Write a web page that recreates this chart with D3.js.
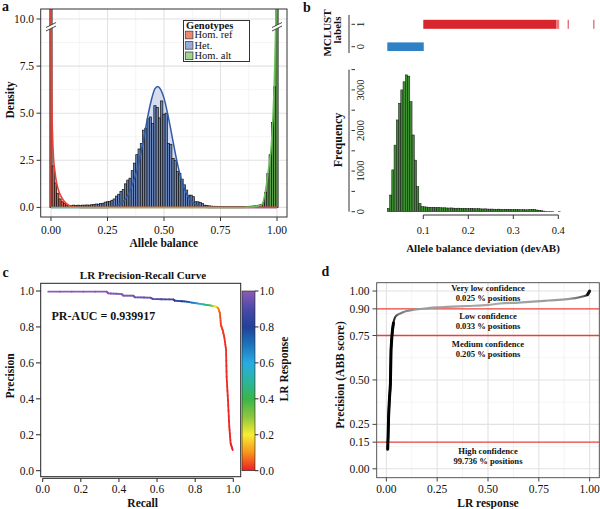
<!DOCTYPE html>
<html><head><meta charset="utf-8">
<script src="https://cdn.jsdelivr.net/npm/d3@7"></script>
<style>
body{margin:0;background:#fff}
svg{display:block}
text{font-family:"Liberation Serif","Times New Roman",serif;fill:#111}
</style>
</head><body>
<svg id="chart" width="600" height="509"></svg>
<script>
// ---------------- DATA ----------------
// Panel a: allele balance histogram (density per 0.01 bin, bins centred on 0.00 ... 1.00)
const abDensity = [40,2.2,1.3,0.75,0.45,0.3,0.2,0.12,0.1,0.1,
  0.12,0.1,0.12,0.1,0.12,0.12,0.13,0.12,0.14,0.15,
  0.18,0.17,0.2,0.22,0.28,0.3,0.32,0.38,0.45,0.6,
  0.7,0.85,0.95,1.25,1.45,1.55,1.95,2.35,2.8,3.1,
  3.4,4.1,4.2,4.7,4.8,4.45,5.4,5.3,4.75,5.65,
  4.95,5.0,3.4,3.35,2.6,2.5,1.9,1.8,1.5,1.2,
  0.92,0.65,0.65,0.57,0.3,0.3,0.27,0.2,0.12,0.1,
  0.08,0.07,0.06,0.06,0.05,0.05,0.05,0.04,0.04,0.04,
  0.04,0.04,0.04,0.04,0.04,0.04,0.05,0.05,0.06,0.07,
  0.08,0.08,0.12,0.15,0.25,0.8,1.8,2.8,4.5,6.4,40];
const genotypes = ["Hom. ref","Het.","Hom. alt"];
// fitted density curves: [allele balance, density]
const curveHomRef = [[0,11],[0.004,5.5],[0.01,2.9],[0.018,1.85],[0.025,1.3],[0.035,0.85],[0.045,0.58],[0.054,0.4],[0.065,0.24],[0.075,0.14],[0.084,0.08],[0.1,0.03],[0.12,0.01],[0.15,0],[1,0]];
const curveHet = [[0,0],[0.25,0],[0.27,0.04],[0.3,0.15],[0.33,0.45],[0.36,1.2],[0.38,1.95],[0.4,3.0],[0.42,4.3],[0.44,5.5],[0.46,6.3],[0.472,6.42],[0.48,6.35],[0.5,5.8],[0.52,4.75],[0.54,3.5],[0.56,2.3],[0.58,1.35],[0.6,0.72],[0.62,0.34],[0.64,0.14],[0.67,0.03],[0.7,0],[1,0]];
const curveHomAlt = [[0,0],[0.85,0],[0.88,0.02],[0.91,0.06],[0.932,0.14],[0.947,0.74],[0.962,2.0],[0.973,3.05],[0.982,4.8],[0.99,7.5],[0.996,10.6],[1.0,12]];
const yTicksA = [0,2.5,5,7.5,10];
const xTicksA = [0,0.25,0.5,0.75,1];

// Panel b: devAB histogram (bins of 0.005 starting at 0.020)
const devabFreq = [80,410,1030,1640,2260,2670,3000,3200,3370,3340,
  2710,1890,1270,615,205,125,
  120,115,110,108,105,100,104,98,95,97,
  92,90,93,88,85,87,82,80,83,78,
  76,78,74,72,75,70,68,70,66,64,
  65,62,60,63,58,56,60,55,57,52,
  55,50,52,48,50,46,48,55,58,50,
  42,35,25,15,8,4,2,1,0,0,
  1,0,0,0,0,0,0,0,0,0,0];
const mclustLabel0 = [0.02,0.101];
const mclustLabel1 = [0.1,0.395];
const mclustLabel1Faint = [0.395,0.402];
const mclustLabel1Points = [0.422,0.479];
const xTicksB = [0.1,0.2,0.3,0.4];
const yTicksB = [0,500,1000,1500,2000,2500,3000,3500];
const yLabelsB = [0,1000,2000,3000];

// Panel c: PR curve (recall, precision, LR response cut-off)
const prRecall    = [0.029,0.336,0.344,0.414,0.423,0.475,0.484,0.563,0.58,0.685,0.694,0.755,0.825,0.878,0.909,0.921,0.93,0.935,0.944,0.953,0.962,0.965,0.972,0.979,0.986,0.997];
const prPrecision = [0.996,0.996,0.987,0.983,0.974,0.974,0.965,0.963,0.955,0.953,0.946,0.941,0.928,0.92,0.913,0.904,0.876,0.811,0.783,0.742,0.672,0.523,0.393,0.245,0.152,0.115];
const prCutoff    = [1.0,0.99,0.99,0.98,0.98,0.97,0.96,0.95,0.93,0.87,0.85,0.78,0.6,0.38,0.2,0.1,0.05,0.03,0.025,0.02,0.015,0.012,0.01,0.008,0.005,0.0];
const colorStops = [[0,"#ed1c24"],[0.1,"#f7941d"],[0.2,"#f9ed32"],[0.3,"#8dc63f"],[0.4,"#39b54a"],[0.5,"#2bb5a0"],[0.6,"#29abe2"],[0.7,"#1c75bc"],[0.8,"#21409a"],[0.9,"#4a4aa8"],[1,"#8e5bb5"]];
const ticksC = [0,0.2,0.4,0.6,0.8,1.0];
const prAUC = "PR-AUC = 0.939917";

// Panel d: ABB score curve
const lrResponse = [0.0066,0.009,0.011,0.015,0.02,0.023,0.027,0.03,0.035,0.041,0.05,0.061,0.08,0.1,0.13,0.167,0.2,0.25,0.3,0.4,0.5,0.56,0.65,0.72,0.8,0.89,0.93,0.96,0.975,0.99,0.995,1.0];
const abbScore   = [0.11,0.2,0.294,0.39,0.48,0.67,0.74,0.78,0.82,0.847,0.862,0.87,0.88,0.888,0.894,0.899,0.903,0.908,0.911,0.916,0.922,0.93,0.935,0.94,0.947,0.955,0.96,0.968,0.972,0.98,0.99,1.0];
const cutLines = [0.15,0.75,0.9];
const yTicksD = [0,0.15,0.25,0.5,0.75,0.9,1];
const xTicksD = [0,0.25,0.5,0.75,1];
const zones = [
  {name:"Very low confidence", pct:"0.025 % positions", y:1.015},
  {name:"Low confidence", pct:"0.033 % positions", y:0.861},
  {name:"Medium confidence", pct:"0.205 % positions", y:0.702},
  {name:"High confidence", pct:"99.736 % positions", y:0.098}
];

// ---------------- DRAW ----------------
const svg = d3.select("#chart");
const defs = svg.append("defs");
const fmt2 = d3.format(".2f"), fmt1 = d3.format(".1f");

function letter(t,x,y){svg.append("text").attr("x",x).attr("y",y).attr("font-size",14).attr("font-weight","bold").text(t);}

// ===== Panel a =====
(function(){
  const x = d3.scaleLinear().domain([-0.0455,1.0442]).range([40.7,287]);
  const y = d3.scaleLinear().domain([-0.509,10.53]).range([217,9]);
  const g = svg.append("g");
  defs.append("clipPath").attr("id","clipA").append("rect").attr("x",40.7).attr("y",9).attr("width",246.3).attr("height",208);
  g.append("rect").attr("x",40.7).attr("y",9).attr("width",246.3).attr("height",208).attr("fill","#fff");
  const grid = g.append("g");
  const minorX = [0.125,0.375,0.625,0.875], minorY=[1.25,3.75,6.25,8.75];
  minorX.forEach(v=>grid.append("line").attr("x1",x(v)).attr("x2",x(v)).attr("y1",9).attr("y2",217).attr("stroke","#efefef").attr("stroke-width",0.7));
  minorY.forEach(v=>grid.append("line").attr("y1",y(v)).attr("y2",y(v)).attr("x1",40.7).attr("x2",287).attr("stroke","#efefef").attr("stroke-width",0.7));
  xTicksA.forEach(v=>grid.append("line").attr("x1",x(v)).attr("x2",x(v)).attr("y1",9).attr("y2",217).attr("stroke","#e2e2e2").attr("stroke-width",1.1));
  yTicksA.forEach(v=>grid.append("line").attr("y1",y(v)).attr("y2",y(v)).attr("x1",40.7).attr("x2",287).attr("stroke","#e2e2e2").attr("stroke-width",1.1));

  const p = g.append("g").attr("clip-path","url(#clipA)");
  const area = d3.area().x(d=>x(d[0])).y0(y(0)).y1(d=>y(d[1])).curve(d3.curveMonotoneX);
  const line = d3.line().x(d=>x(d[0])).y(d=>y(d[1])).curve(d3.curveMonotoneX);
  p.append("path").attr("d",area(curveHet)).attr("fill","#c9d0e8").attr("opacity",0.75);
  p.append("path").attr("d",area(curveHomRef)).attr("fill","#f6c9c2").attr("opacity",0.7);
  p.append("path").attr("d",area(curveHomAlt)).attr("fill","#cfe9c8").attr("opacity",0.7);
  const bw = 0.01;
  p.selectAll("rect.bar").data(abDensity).join("rect").attr("class","bar")
    .attr("x",(d,i)=>x(i*bw - bw/2)).attr("width",x(bw)-x(0))
    .attr("y",d=>y(d)).attr("height",d=>y(0)-y(d))
    .attr("fill",(d,i)=> i*bw<0.1 ? "#d9594a" : (i*bw>0.9 ? "#5fa04d" : "#6a85ba"))
    .attr("stroke","#111").attr("stroke-width",0.7);
  p.append("path").attr("d",line(curveHet)).attr("fill","none").attr("stroke","#2d5ca8").attr("stroke-width",1.5);
  p.append("path").attr("d",line(curveHomRef)).attr("fill","none").attr("stroke","#e8433a").attr("stroke-width",1.6);
  p.append("path").attr("d",line(curveHomAlt)).attr("fill","none").attr("stroke","#6cc05a").attr("stroke-width",1.5);
  // axis break marks
  function brk(cx,cy){
    g.append("path").attr("d",`M${cx-5},${cy+1} L${cx+5},${cy-4} L${cx+5},${cy-0.5} L${cx-5},${cy+4.5}Z`).attr("fill","#fff");
    g.append("line").attr("x1",cx-5).attr("y1",cy+1).attr("x2",cx+5).attr("y2",cy-4).attr("stroke","#333").attr("stroke-width",0.9);
    g.append("line").attr("x1",cx-5).attr("y1",cy+4.5).attr("x2",cx+5).attr("y2",cy-0.5).attr("stroke","#333").attr("stroke-width",0.9);
  }
  brk(x(0),y(9.6)); brk(x(1),y(9.6));
  g.append("rect").attr("x",40.7).attr("y",9).attr("width",246.3).attr("height",208).attr("fill","none").attr("stroke","#333").attr("stroke-width",1);
  // axes
  yTicksA.forEach(v=>{
    g.append("line").attr("x1",36.5).attr("x2",40.7).attr("y1",y(v)).attr("y2",y(v)).attr("stroke","#333");
    g.append("text").attr("x",34).attr("y",y(v)).attr("dy","0.35em").attr("text-anchor","end").attr("font-size",11.5).attr("fill","#333").text(fmt1(v));
  });
  xTicksA.forEach(v=>{
    g.append("line").attr("x1",x(v)).attr("x2",x(v)).attr("y1",217).attr("y2",221).attr("stroke","#333");
    g.append("text").attr("x",x(v)).attr("y",230).attr("dy","0.35em").attr("text-anchor","middle").attr("font-size",11.5).attr("fill","#333").text(fmt2(v));
  });
  g.append("text").attr("x",163.8).attr("y",243).attr("dy","0.35em").attr("text-anchor","middle").attr("font-size",11.5).attr("font-weight","bold").text("Allele balance");
  g.append("text").attr("transform","translate(10,100) rotate(-90)").attr("dy","0.35em").attr("text-anchor","middle").attr("font-size",11.5).attr("font-weight","bold").text("Density");
  // legend
  const lg = g.append("g");
  lg.append("rect").attr("x",183.5).attr("y",20.5).attr("width",66).attr("height",41).attr("fill","#fff").attr("stroke","#333").attr("stroke-width",1);
  lg.append("text").attr("x",186).attr("y",28.5).attr("font-size",10.5).attr("font-weight","bold").text("Genotypes");
  const keyFill = ["#f0876f","#97acd8","#9fd491"];
  genotypes.forEach((n,i)=>{
    const cy = 35 + i*10.4;
    lg.append("rect").attr("x",185.3).attr("y",cy-3.8).attr("width",7.6).attr("height",7.6).attr("fill",keyFill[i]).attr("stroke","#444").attr("stroke-width",0.8);
    lg.append("text").attr("x",194.5).attr("y",cy+3.4).attr("font-size",10.5).text(n);
  });
})();
letter("a",2,11);

// ===== Panel b =====
(function(){
  const x = d3.scaleLinear().domain([0,0.5]).range([378.3,603.3]);
  const y = d3.scaleLinear().domain([0,3500]).range([211.7,69.6]);
  const ys = d3.scaleLinear().domain([0,1]).range([46.7,24.3]);
  const g = svg.append("g");
  // strip
  g.append("rect").attr("x",x(mclustLabel1[0])).attr("width",x(mclustLabel1[1])-x(mclustLabel1[0])).attr("y",ys(1)-4.5).attr("height",9).attr("fill","#d7262d");
  g.append("rect").attr("x",x(mclustLabel1Faint[0])).attr("width",x(mclustLabel1Faint[1])-x(mclustLabel1Faint[0])).attr("y",ys(1)-4.5).attr("height",9).attr("fill","#e8797c");
  mclustLabel1Points.forEach(v=>g.append("line").attr("x1",x(v)).attr("x2",x(v)).attr("y1",ys(1)-4.5).attr("y2",ys(1)+4.5).attr("stroke","#d7262d").attr("stroke-width",0.9));
  g.append("rect").attr("x",x(mclustLabel0[0])).attr("width",x(mclustLabel0[1])-x(mclustLabel0[0])).attr("y",ys(0)-4.3).attr("height",8.6).attr("fill","#2f80c4");
  g.append("line").attr("x1",349).attr("x2",349).attr("y1",15).attr("y2",53).attr("stroke","#333").attr("stroke-width",1);
  [0,1].forEach(v=>{
    g.append("line").attr("x1",351.5).attr("x2",355).attr("y1",ys(v)).attr("y2",ys(v)).attr("stroke","#333");
    g.append("text").attr("transform",`translate(360,${ys(v)}) rotate(-90)`).attr("dy","0.35em").attr("text-anchor","middle").attr("font-size",10.5).attr("fill","#333").text(v);
  });
  g.append("text").attr("transform","translate(327,33) rotate(-90)").attr("dy","0.35em").attr("text-anchor","middle").attr("font-size",11).attr("font-weight","bold").text("MCLUST");
  g.append("text").attr("transform","translate(337.5,30) rotate(-90)").attr("dy","0.35em").attr("text-anchor","middle").attr("font-size",11).attr("font-weight","bold").text("labels");
  // histogram
  const bw = 0.005;
  g.selectAll("rect.hb").data(devabFreq).join("rect").attr("class","hb")
    .attr("x",(d,i)=>x(0.02+i*bw)).attr("width",x(bw)-x(0))
    .attr("y",d=>y(d)).attr("height",d=>y(0)-y(d))
    .attr("fill","#3f8f33").attr("stroke","#111").attr("stroke-width",0.5);
  g.append("line").attr("x1",349).attr("x2",349).attr("y1",y(3500)).attr("y2",y(0)).attr("stroke","#333");
  yTicksB.forEach(v=>g.append("line").attr("x1",351.5).attr("x2",355).attr("y1",y(v)).attr("y2",y(v)).attr("stroke","#333"));
  yLabelsB.forEach(v=>g.append("text").attr("transform",`translate(360,${y(v)}) rotate(-90)`).attr("dy","0.35em").attr("text-anchor","middle").attr("font-size",10.5).attr("fill","#333").text(v));
  g.append("text").attr("transform","translate(338,140) rotate(-90)").attr("dy","0.35em").attr("text-anchor","middle").attr("font-size",12).attr("font-weight","bold").text("Frequency");
  g.append("line").attr("x1",x(0.1)).attr("x2",x(0.4)).attr("y1",215).attr("y2",215).attr("stroke","#333");
  xTicksB.forEach(v=>{
    g.append("line").attr("x1",x(v)).attr("x2",x(v)).attr("y1",215).attr("y2",219).attr("stroke","#333");
    g.append("text").attr("x",x(v)).attr("y",230).attr("dy","0.35em").attr("text-anchor","middle").attr("font-size",10.5).attr("fill","#333").text(v);
  });
  g.append("text").attr("x",483).attr("y",248).attr("dy","0.35em").attr("text-anchor","middle").attr("font-size",11).attr("font-weight","bold").text("Allele balance deviation (devAB)");
})();
letter("b",303,11.5);

// ===== Panel c =====
(function(){
  const x = d3.scaleLinear().domain([0,1]).range([42.7,233.3]);
  const y = d3.scaleLinear().domain([0,1]).range([470.7,291]);
  const col = d3.scaleLinear().domain(colorStops.map(d=>d[0])).range(colorStops.map(d=>d[1]));
  const g = svg.append("g");
  g.append("text").attr("x",143).attr("y",275).attr("dy","0.35em").attr("text-anchor","middle").attr("font-size",11).attr("font-weight","bold").text("LR Precision-Recall Curve");
  g.append("rect").attr("x",40.7).attr("y",283.3).attr("width",200).attr("height",193.4).attr("fill","none").attr("stroke","#222").attr("stroke-width",1);
  // curve
  for(let i=0;i<prRecall.length-1;i++){
    const n=5;
    for(let k=0;k<n;k++){
      const a=k/n,b=(k+1)/n;
      const r0=prRecall[i]+(prRecall[i+1]-prRecall[i])*a, r1=prRecall[i]+(prRecall[i+1]-prRecall[i])*b;
      const p0=prPrecision[i]+(prPrecision[i+1]-prPrecision[i])*a, p1=prPrecision[i]+(prPrecision[i+1]-prPrecision[i])*b;
      const c=prCutoff[i]+(prCutoff[i+1]-prCutoff[i])*(a+b)/2;
      g.append("line").attr("x1",x(r0)).attr("y1",y(p0)).attr("x2",x(r1)).attr("y2",y(p1)).attr("stroke",col(c)).attr("stroke-width",1.8).attr("stroke-linecap","round");
    }
  }
  g.append("text").attr("x",51.5).attr("y",316).attr("dy","0.35em").attr("font-size",12).attr("font-weight","bold").text(prAUC);
  // axes
  ticksC.forEach(v=>{
    g.append("line").attr("x1",36).attr("x2",40.7).attr("y1",y(v)).attr("y2",y(v)).attr("stroke","#222");
    g.append("text").attr("x",34).attr("y",y(v)).attr("dy","0.35em").attr("text-anchor","end").attr("font-size",11.5).text(fmt1(v));
    g.append("line").attr("x1",x(v)).attr("x2",x(v)).attr("y1",478.3).attr("y2",482).attr("stroke","#222");
    g.append("text").attr("x",x(v)).attr("y",488.5).attr("dy","0.35em").attr("text-anchor","middle").attr("font-size",11.5).text(fmt1(v));
  });
  g.append("line").attr("x1",x(0)).attr("x2",x(1)).attr("y1",478.3).attr("y2",478.3).attr("stroke","#222");
  g.append("text").attr("x",142.7).attr("y",503).attr("dy","0.35em").attr("text-anchor","middle").attr("font-size",11.5).attr("font-weight","bold").text("Recall");
  g.append("text").attr("transform","translate(10,376) rotate(-90)").attr("dy","0.35em").attr("text-anchor","middle").attr("font-size",11.5).attr("font-weight","bold").text("Precision");
  // colour bar
  const grad = defs.append("linearGradient").attr("id","cbar").attr("x1",0).attr("y1",1).attr("x2",0).attr("y2",0);
  colorStops.forEach(s=>grad.append("stop").attr("offset",s[0]).attr("stop-color",s[1]));
  g.append("rect").attr("x",242).attr("y",y(1)).attr("width",13).attr("height",y(0)-y(1)).attr("fill","url(#cbar)").attr("stroke","#222").attr("stroke-width",0.6);
  ticksC.forEach(v=>{
    g.append("line").attr("x1",255).attr("x2",258.5).attr("y1",y(v)).attr("y2",y(v)).attr("stroke","#222");
    g.append("text").attr("x",259.5).attr("y",y(v)).attr("dy","0.35em").attr("font-size",11.5).text(fmt1(v));
  });
  g.append("text").attr("transform","translate(284,369) rotate(-90)").attr("dy","0.35em").attr("text-anchor","middle").attr("font-size",11.5).attr("font-weight","bold").text("LR Response");
})();
letter("c",2.5,276.5);

// ===== Panel d =====
(function(){
  const x = d3.scaleLinear().domain([-0.0475,1.0475]).range([376.7,599.3]);
  const y = d3.scaleLinear().domain([-0.05,1.047]).range([477.7,282.7]);
  const g = svg.append("g");
  defs.append("clipPath").attr("id","clipD").append("rect").attr("x",376.7).attr("y",282.7).attr("width",222.6).attr("height",195);
  g.append("rect").attr("x",376.7).attr("y",282.7).attr("width",222.6).attr("height",195).attr("fill","#fff");
  const minor=[0.125,0.375,0.625,0.875], major=[0,0.25,0.5,0.75,1];
  minor.forEach(v=>{
    g.append("line").attr("x1",x(v)).attr("x2",x(v)).attr("y1",282.7).attr("y2",477.7).attr("stroke","#efefef").attr("stroke-width",0.7);
    g.append("line").attr("y1",y(v)).attr("y2",y(v)).attr("x1",376.7).attr("x2",599.3).attr("stroke","#efefef").attr("stroke-width",0.7);
  });
  major.forEach(v=>{
    g.append("line").attr("x1",x(v)).attr("x2",x(v)).attr("y1",282.7).attr("y2",477.7).attr("stroke","#e2e2e2").attr("stroke-width",1.1);
    g.append("line").attr("y1",y(v)).attr("y2",y(v)).attr("x1",376.7).attr("x2",599.3).attr("stroke","#e2e2e2").attr("stroke-width",1.1);
  });
  const p = g.append("g").attr("clip-path","url(#clipD)");
  cutLines.forEach(v=>p.append("line").attr("x1",376.7).attr("x2",599.3).attr("y1",y(v)).attr("y2",y(v)).attr("stroke","#e8403c").attr("stroke-width",1.3));
  const gr = defs.append("linearGradient").attr("id","dgrad").attr("gradientUnits","userSpaceOnUse")
    .attr("x1",x(0)).attr("x2",x(1)).attr("y1",0).attr("y2",0);
  [[0,"#000"],[0.03,"#111"],[0.06,"#777"],[0.15,"#9a9a9a"],[0.5,"#a8a8a8"],[0.9,"#999"],[0.97,"#555"],[1,"#111"]]
    .forEach(s=>gr.append("stop").attr("offset",s[0]).attr("stop-color",s[1]));
  const pts = lrResponse.map((v,i)=>[v,abbScore[i]]);
  const line = d3.line().x(d=>x(d[0])).y(d=>y(d[1])).curve(d3.curveMonotoneX);
  const lineY = d3.line().x(d=>x(d[0])).y(d=>y(d[1]));
  p.append("path").attr("d",line(pts)).attr("fill","none").attr("stroke","url(#dgrad)").attr("stroke-width",2.2);
  p.append("path").attr("d",lineY(pts.filter(d=>d[1]<0.84))).attr("fill","none").attr("stroke","#000").attr("stroke-width",3).attr("stroke-linecap","round");
  p.append("path").attr("d",lineY(pts.filter(d=>d[0]>0.985))).attr("fill","none").attr("stroke","#111").attr("stroke-width",3).attr("stroke-linecap","round");
  zones.forEach(z=>{
    p.append("text").attr("x",x(0.5)).attr("y",y(z.y)).attr("dy","0.35em").attr("text-anchor","middle").attr("font-size",8.6).attr("font-weight","bold").text(z.name);
    p.append("text").attr("x",x(0.5)).attr("y",y(z.y)+10).attr("dy","0.35em").attr("text-anchor","middle").attr("font-size",8.6).attr("font-weight","bold").text(z.pct);
  });
  g.append("rect").attr("x",376.7).attr("y",282.7).attr("width",222.6).attr("height",195).attr("fill","none").attr("stroke","#444").attr("stroke-width",0.9);
  yTicksD.forEach(v=>{
    const red = cutLines.includes(v);
    g.append("line").attr("x1",372.5).attr("x2",376.7).attr("y1",y(v)).attr("y2",y(v)).attr("stroke","#444");
    g.append("text").attr("x",369.5).attr("y",y(v)).attr("dy","0.35em").attr("text-anchor","end").attr("font-size",11.5).attr("fill",red?"#c8342f":"#333").text(fmt2(v));
  });
  xTicksD.forEach(v=>{
    g.append("line").attr("x1",x(v)).attr("x2",x(v)).attr("y1",477.7).attr("y2",481.5).attr("stroke","#444");
    g.append("text").attr("x",x(v)).attr("y",488.5).attr("dy","0.35em").attr("text-anchor","middle").attr("font-size",11.5).attr("fill","#333").text(fmt2(v));
  });
  g.append("text").attr("x",x(0.5)).attr("y",502.5).attr("dy","0.35em").attr("text-anchor","middle").attr("font-size",11.5).attr("font-weight","bold").text("LR response");
  g.append("text").attr("transform","translate(340,375) rotate(-90)").attr("dy","0.35em").attr("text-anchor","middle").attr("font-size",11.5).attr("font-weight","bold").text("Precision (ABB score)");
})();
letter("d",321.5,276);
</script>
</body></html>
